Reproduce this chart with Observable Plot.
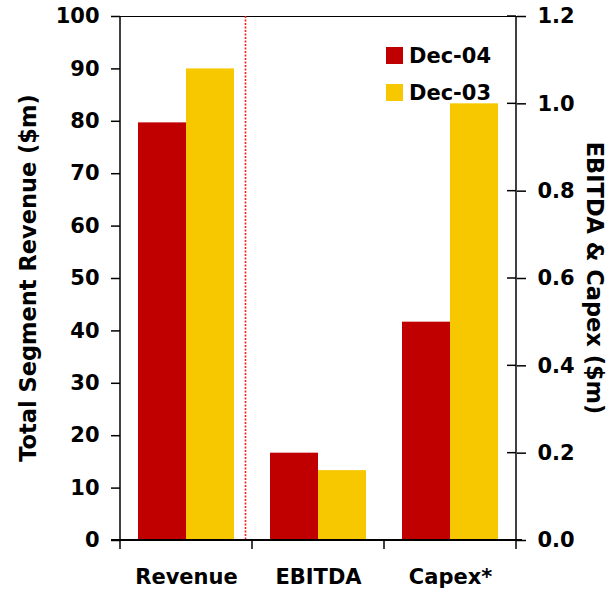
<!DOCTYPE html>
<html><head><meta charset="utf-8">
<script src="https://cdn.jsdelivr.net/npm/d3@7"></script>
<script src="https://cdn.jsdelivr.net/npm/@observablehq/plot@0.6"></script>
<style>
body{margin:0;background:#fff;}
#wrap{position:relative;width:612px;height:592px;font-family:"DejaVu Sans",Verdana,sans-serif;font-weight:bold;}
.legend{position:absolute;left:386px;top:46px;font-size:21px;color:#000;}
.legend .row{display:flex;align-items:center;height:19px;margin-bottom:18px;}
.legend .sw{width:17px;height:17px;margin-right:6px;}
</style>
</head><body><div id="wrap"></div>
<script>
const categories = ["Revenue", "EBITDA", "Capex*"];
const series = ["Dec-04", "Dec-03"];
const dec04 = [79.7, 0.20, 0.50];
const dec03 = [90.0, 0.16, 1.00];
const leftTicks = [0, 10, 20, 30, 40, 50, 60, 70, 80, 90, 100];
const rightTicks = [0.0, 0.2, 0.4, 0.6, 0.8, 1.0, 1.2];
const colors = ["#c00000", "#f7c800"];
const leftTitle = "Total Segment Revenue ($m)";
const rightTitle = "EBITDA & Capex ($m)";

const ratio = 1.2 / 100; // right axis units per left axis unit
const rows = [];
categories.forEach((c, i) => {
  [dec04, dec03].forEach((vals, j) => {
    const v = vals[i];
    rows.push({category: c, series: series[j], value: v, plotted: c === "Revenue" ? v : v / ratio});
  });
});

const chart = Plot.plot({
  width: 612, height: 592,
  marginLeft: 119, marginRight: 95, marginTop: 16, marginBottom: 52,
  style: {fontFamily: "'DejaVu Sans', Verdana, sans-serif", fontWeight: "bold", fontSize: "21px", color: "#000", background: "#fff", overflow: "visible"},
  fx: {domain: categories, padding: 0, label: null},
  x: {domain: series, paddingInner: 0, paddingOuter: 0.37, axis: null},
  y: {domain: [0, 100], label: null},
  color: {domain: series, range: colors},
  marks: [
    Plot.barY(rows, {fx: "category", x: "series", y: "plotted", fill: "series"}),
    Plot.frame({anchor: "top", stroke: "#000", strokeWidth: 1.2}),
    Plot.axisY({anchor: "left", ticks: leftTicks, tickSize: 9, tickPadding: 12, label: null, strokeWidth: 1.5, tickFormat: d => String(d)}),
    Plot.axisY({anchor: "right", ticks: rightTicks.map(v => v / ratio), tickSize: 9, tickPadding: 12, label: null, strokeWidth: 1.5, tickFormat: d => (d * ratio).toFixed(1)}),
    Plot.axisFx({anchor: "bottom", tickSize: 0, tickPadding: 29, label: null})
  ]
});

const wrap = document.getElementById("wrap");
wrap.appendChild(chart);

// decorations positioned through the library's scales
const svg = d3.select(chart);
const fx = chart.scale("fx");
const y = chart.scale("y");
const bw = fx.bandwidth;
const y0 = y.apply(0), yTop = y.apply(100);
const xLeft = fx.apply(categories[0]);
const xRight = fx.apply(categories[categories.length - 1]) + bw;
const bounds = categories.map(c => fx.apply(c)).concat([xRight]);

// dotted divider between Revenue (left axis) and others (right axis)
const divX = Math.round(fx.apply("Revenue") + bw * 0.95) + 0.5;
svg.append("line").attr("x1", divX).attr("x2", divX).attr("y1", yTop).attr("y2", y0)
  .attr("style", "stroke:#ff1a1a;stroke-width:1.6;stroke-dasharray:2,1.5;fill:none");

const g = svg.append("g").attr("stroke", "#000").attr("stroke-width", 1.5);
// axis lines
g.append("line").attr("x1", xLeft).attr("x2", xLeft).attr("y1", yTop).attr("y2", y0);
g.append("line").attr("x1", xRight).attr("x2", xRight).attr("y1", yTop).attr("y2", y0);
g.append("line").attr("x1", xLeft - 9).attr("x2", xRight + 6).attr("y1", y0).attr("y2", y0).attr("stroke-width", 1.8);
bounds.forEach(b => {
  g.append("line").attr("x1", b).attr("x2", b).attr("y1", y0).attr("y2", y0 + 9);
});
// inner half of the right-axis ticks (they cross the axis)
rightTicks.forEach(v => {
  const yy = y.apply(v / ratio);
  g.append("line").attr("x1", xRight - 9).attr("x2", xRight).attr("y1", yy).attr("y2", yy);
});
// axis titles
const midY = (y0 + yTop) / 2;
const tg = svg.append("g").attr("font-size", 22.5).attr("font-weight", "bold").attr("fill", "#000")
  .attr("text-anchor", "middle").attr("dominant-baseline", "central");
tg.append("text").attr("transform", `translate(28,${midY}) rotate(-90)`).text(leftTitle);
tg.append("text").attr("transform", `translate(595,${midY}) rotate(90)`).text(rightTitle);

// legend
const leg = document.createElement("div");
leg.className = "legend";
series.forEach((s, i) => {
  const r = document.createElement("div");
  r.className = "row";
  const sw = document.createElement("div");
  sw.className = "sw"; sw.style.background = colors[i];
  const t = document.createElement("span"); t.textContent = s;
  r.appendChild(sw); r.appendChild(t); leg.appendChild(r);
});
wrap.appendChild(leg);
</script>
</body></html>
